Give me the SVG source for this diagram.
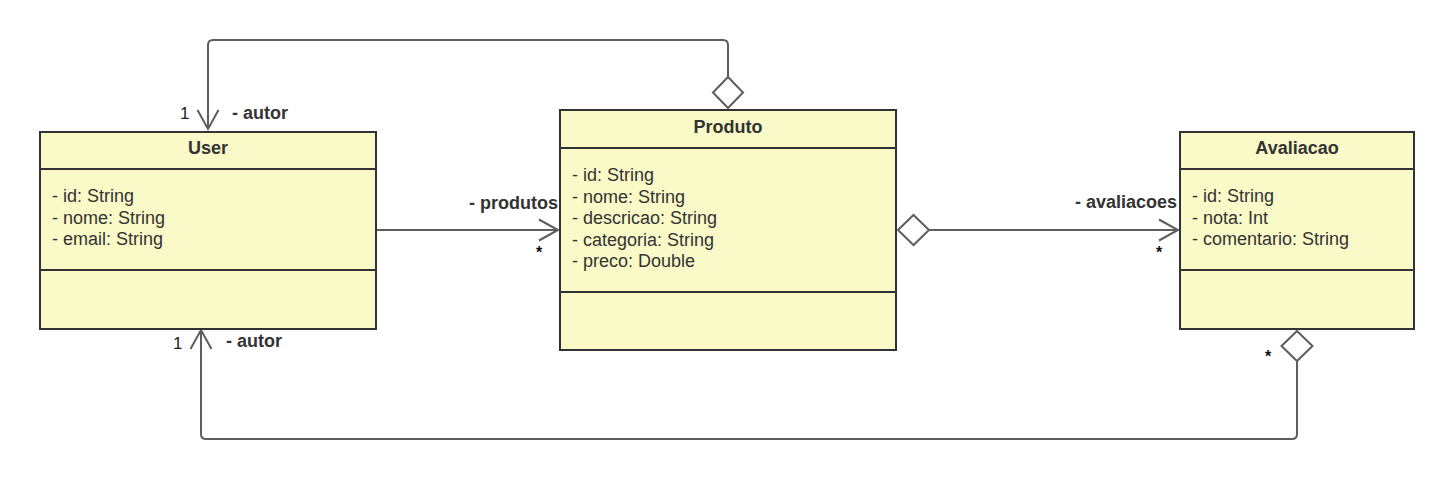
<svg xmlns="http://www.w3.org/2000/svg" width="1454" height="480" viewBox="0 0 1454 480">
<defs>
<style>
.box{fill:#fafac8;stroke:#333;stroke-width:2}
.div{stroke:#333;stroke-width:2}
.title{font-family:"Liberation Sans",Arial,sans-serif;font-size:18px;font-weight:bold;fill:#333;text-anchor:middle}
.attr{font-family:"Liberation Sans",Arial,sans-serif;font-size:18px;fill:#333}
.edge{fill:none;stroke:#5e5e5e;stroke-width:2}
.dia{fill:#fff;stroke:#5e5e5e;stroke-width:2}
.role{font-family:"Liberation Sans",Arial,sans-serif;font-size:18px;font-weight:bold;fill:#333}
.mult{font-family:"Liberation Sans",Arial,sans-serif;font-size:17px;fill:#222}
.star{font-family:"Liberation Sans",Arial,sans-serif;font-size:16px;font-weight:bold;fill:#111}
</style>
<marker id="arrow" markerUnits="userSpaceOnUse" markerWidth="26" markerHeight="26" viewBox="-22 -13 26 26" refX="0" refY="0" orient="auto" overflow="visible">
<path d="M-19,-10.5 L0,0 L-19,10.5" fill="none" stroke="#5e5e5e" stroke-width="2"/>
</marker>
</defs>
<rect width="1454" height="480" fill="#fff"/>

<g id="connectors">
<path class="edge" d="M728,77 V45 Q728,40 723,40 H213 Q208,40 208,45 V129" marker-end="url(#arrow)"/>
<polygon class="dia" points="728,77 743,92.5 728,108 713,92.5"/>
<path class="edge" d="M377,230 H558" marker-end="url(#arrow)"/>
<path class="edge" d="M929,230 H1178" marker-end="url(#arrow)"/>
<polygon class="dia" points="898,230 913.5,215 929,230 913.5,245"/>
<path class="edge" d="M1297,361 V434 Q1297,439 1292,439 H206 Q201,439 201,434 V330" marker-end="url(#arrow)"/>
<polygon class="dia" points="1297,331 1312.5,346 1297,361 1281.5,346"/>
<text class="mult" x="180" y="119">1</text>
<text class="role" x="232" y="119">- autor</text>
<text class="role" x="469" y="209">- produtos</text>
<text class="star" x="536" y="258">*</text>
<text class="role" x="1075" y="208">- avaliacoes</text>
<text class="star" x="1156" y="258">*</text>
<text class="star" x="1265" y="362">*</text>
<text class="mult" x="173" y="349">1</text>
<text class="role" x="226" y="347">- autor</text>
</g>

<g id="user">
<rect class="box" x="40" y="132" width="336" height="197"/>
<line class="div" x1="40" y1="169" x2="376" y2="169"/>
<line class="div" x1="40" y1="270" x2="376" y2="270"/>
<text class="title" x="208" y="154">User</text>
<text class="attr" x="52" y="202">- id: String</text>
<text class="attr" x="52" y="223.6">- nome: String</text>
<text class="attr" x="52" y="245.2">- email: String</text>
</g>

<g id="produto">
<rect class="box" x="560" y="110" width="336" height="240"/>
<line class="div" x1="560" y1="148" x2="896" y2="148"/>
<line class="div" x1="560" y1="292" x2="896" y2="292"/>
<text class="title" x="728" y="133">Produto</text>
<text class="attr" x="572" y="181">- id: String</text>
<text class="attr" x="572" y="202.6">- nome: String</text>
<text class="attr" x="572" y="224.2">- descricao: String</text>
<text class="attr" x="572" y="245.8">- categoria: String</text>
<text class="attr" x="572" y="267.4">- preco: Double</text>
</g>

<g id="avaliacao">
<rect class="box" x="1180" y="132" width="234" height="197"/>
<line class="div" x1="1180" y1="169" x2="1414" y2="169"/>
<line class="div" x1="1180" y1="270" x2="1414" y2="270"/>
<text class="title" x="1297" y="154">Avaliacao</text>
<text class="attr" x="1192" y="202">- id: String</text>
<text class="attr" x="1192" y="223.6">- nota: Int</text>
<text class="attr" x="1192" y="245.2">- comentario: String</text>
</g>
</svg>
